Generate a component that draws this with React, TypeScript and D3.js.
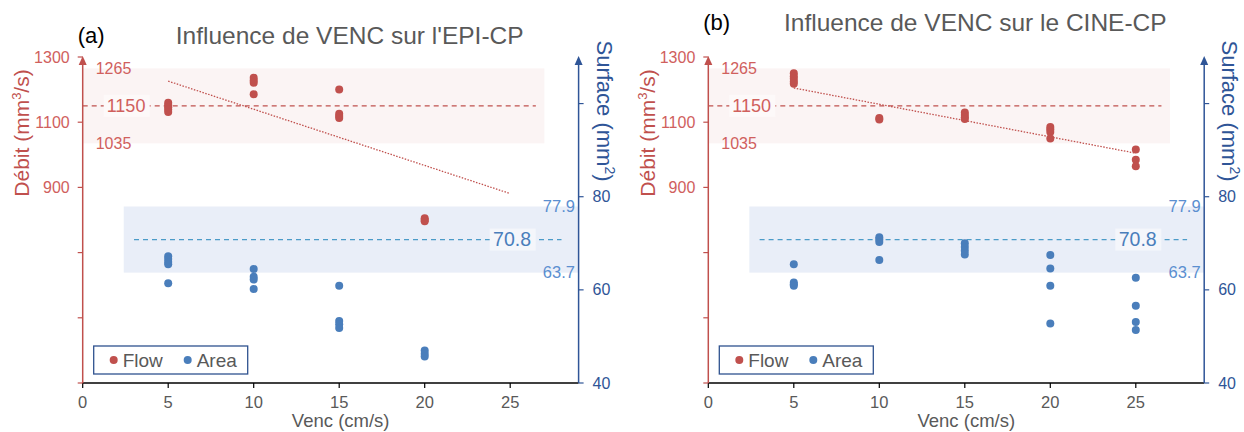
import React from "react";
import * as d3 from "d3";

// valeurs
const vencTicks = [0, 5, 10, 15, 20, 25];
const flowTicks = [300, 500, 700, 900, 1100, 1300];
const flowLabels = [900, 1100, 1300];
const areaTicks = [40, 60, 80, 100];
const areaLabels = [40, 60, 80];

const flowRef = { mean: 1150, low: 1035, high: 1265 };
const areaRef = { mean: 70.8, low: 63.7, high: 77.9 };

// (a) EPI-CP
const epiFlow: [number, number][] = [
  [5, 1160], [5, 1153], [5, 1146], [5, 1139], [5, 1131],
  [10, 1236], [10, 1228], [10, 1221], [10, 1186],
  [15, 1200], [15, 1126], [15, 1119], [15, 1113],
  [20, 805], [20, 800], [20, 796],
];
const epiArea: [number, number][] = [
  [5, 67.2], [5, 66.6], [5, 66.0], [5, 65.5], [5, 61.4],
  [10, 64.5], [10, 62.8], [10, 62.2], [10, 60.2],
  [15, 60.9], [15, 53.3], [15, 52.6], [15, 51.8],
  [20, 47.0], [20, 46.3], [20, 45.7],
];
const epiTrend: [number, number][] = [[5, 1226], [25, 881]];

// (b) CINE-CP
const cineFlow: [number, number][] = [
  [5, 1250], [5, 1241], [5, 1233], [5, 1225], [5, 1218],
  [10, 1113], [10, 1108],
  [15, 1130], [15, 1122], [15, 1115], [15, 1110],
  [20, 1085], [20, 1078], [20, 1070], [20, 1050],
  [25, 1016], [25, 985], [25, 965],
];
const cineArea: [number, number][] = [
  [5, 65.5], [5, 61.6], [5, 61.2], [5, 60.9],
  [10, 71.3], [10, 70.8], [10, 70.3], [10, 66.4],
  [15, 70.0], [15, 69.2], [15, 68.4], [15, 67.6],
  [20, 67.5], [20, 64.6], [20, 60.9], [20, 52.8],
  [25, 62.6], [25, 56.6], [25, 53.1], [25, 51.4],
];
const cineTrend: [number, number][] = [[5, 1205], [25, 1005]];

const RED = "#c0504d";
const RED_TXT = "#d0605d";
const BLUE = "#4a7ebb";
const NAVY = "#2f5597";
const GREY = "#595959";
const FONT = "'Liberation Sans', Arial, sans-serif";

type PanelProps = {
  left: number;
  titleY: number;
  letter: string;
  title: string;
  flow: [number, number][];
  area: [number, number][];
  trend: [number, number][];
};

const Panel = ({ left, titleY, letter, title, flow, area, trend }: PanelProps) => {
  const top = 57;
  const bottom = 383;
  const x = d3.scaleLinear().domain([0, 29]).range([left, left + 29 * 17.1]);
  const yF = d3.scaleLinear().domain([300, 1300]).range([bottom, top]);
  const yA = d3.scaleLinear().domain([40, 110]).range([bottom, top]);
  const x0 = x(0);
  const x1 = x(29);
  const line = d3
    .line<[number, number]>()
    .x((d) => x(d[0]))
    .y((d) => yF(d[1]));

  return (
    <g fontFamily={FONT}>
      {/* bandes de référence */}
      <rect x={x(0)} y={yF(flowRef.high)} width={x(27) - x(0)}
        height={yF(flowRef.low) - yF(flowRef.high)} fill="#fbf4f4" />
      <rect x={x(2.4)} y={yA(areaRef.high)} width={x1 - x(2.4)}
        height={yA(areaRef.low) - yA(areaRef.high)} fill="#e9eef8" />

      <line x1={x0} x2={x(26.5)} y1={yF(flowRef.mean)} y2={yF(flowRef.mean)}
        stroke={RED} strokeWidth={1.2} strokeDasharray="5,4" />
      <line x1={x(3)} x2={x(28)} y1={yA(areaRef.mean)} y2={yA(areaRef.mean)}
        stroke="#4b9bc8" strokeWidth={1.2} strokeDasharray="5,4" />

      {/* étiquettes des références */}
      <text x={x0 + 13} y={yF(flowRef.high)} dy="0.35em" fontSize={16} fill={RED_TXT}>
        {flowRef.high}
      </text>
      <text x={x0 + 13} y={yF(flowRef.low)} dy="0.35em" fontSize={16} fill={RED_TXT}>
        {flowRef.low}
      </text>
      <rect x={x0 + 21} y={yF(flowRef.mean) - 11} width={46} height={22} fill="#fdf9f9" />
      <text x={x0 + 24} y={yF(flowRef.mean)} dy="0.35em" fontSize={18} fill={RED_TXT}>
        {flowRef.mean}
      </text>
      <text x={x(27.85)} y={yA(areaRef.high)} dy="0.35em" textAnchor="middle" fontSize={16.5} fill="#5b8fd0">
        {areaRef.high}
      </text>
      <text x={x(27.85)} y={yA(areaRef.low)} dy="0.35em" textAnchor="middle" fontSize={16.5} fill="#5b8fd0">
        {areaRef.low}
      </text>
      <rect x={x(23.8)} y={yA(areaRef.mean) - 11} width={46} height={22} fill="#f4f6fb" />
      <text x={x(24.0)} y={yA(areaRef.mean)} dy="0.35em" fontSize={19.5} fill="#4a7ebb">
        {areaRef.mean}
      </text>

      {/* tendance */}
      <path d={line(trend) ?? ""} fill="none" stroke={RED} strokeWidth={1.3} strokeDasharray="1.5,1.5" />

      {/* points */}
      {area.map((d, i) => (
        <circle key={"a" + i} cx={x(d[0])} cy={yA(d[1])} r={4} fill={BLUE} />
      ))}
      {flow.map((d, i) => (
        <circle key={"f" + i} cx={x(d[0])} cy={yF(d[1])} r={4} fill={RED} />
      ))}

      {/* axe X */}
      <line x1={x0} x2={x1} y1={bottom} y2={bottom} stroke="#000" strokeWidth={1.5} />
      {vencTicks.map((t) => (
        <g key={t}>
          <line x1={x(t)} x2={x(t)} y1={bottom} y2={bottom + 5} stroke="#000" strokeWidth={1.2} />
          <text x={x(t)} y={bottom + 19} dy="0.35em" textAnchor="middle" fontSize={16.5} fill={GREY}>
            {t}
          </text>
        </g>
      ))}
      <text x={x0 + 258} y={bottom + 38} dy="0.35em" textAnchor="middle" fontSize={18.5} fill={GREY}>
        Venc (cm/s)
      </text>

      {/* axe gauche : débit */}
      <line x1={x0} x2={x0} y1={bottom} y2={top + 2} stroke={RED} strokeWidth={1.5} />
      <path d={`M${x0 - 4},${top + 8} L${x0},${top - 1} L${x0 + 4},${top + 8} Z`} fill={RED} />
      {flowTicks.map((t) => (
        <line key={t} x1={x0 - 5} x2={x0} y1={yF(t)} y2={yF(t)} stroke={RED} strokeWidth={1.2} />
      ))}
      {flowLabels.map((t) => (
        <text key={t} x={x0 - 13} y={yF(t)} dy="0.35em" textAnchor="end" fontSize={16} fill={RED_TXT}>
          {t}
        </text>
      ))}
      <text transform={`translate(${x0 - 61},${133}) rotate(-90)`} textAnchor="middle"
        dy="0.35em" fontSize={21} fill={RED}>
        Débit (mm<tspan fontSize={13} dy="-8">3</tspan><tspan dy="8">/s)</tspan>
      </text>

      {/* axe droit : surface */}
      <line x1={x1} x2={x1} y1={bottom} y2={top + 2} stroke={NAVY} strokeWidth={1.5} />
      <path d={`M${x1 - 4},${top + 8} L${x1},${top - 1} L${x1 + 4},${top + 8} Z`} fill={NAVY} />
      {areaTicks.map((t) => (
        <line key={t} x1={x1} x2={x1 + 5} y1={yA(t)} y2={yA(t)} stroke={NAVY} strokeWidth={1.2} />
      ))}
      {areaLabels.map((t) => (
        <text key={t} x={x1 + 14} y={yA(t)} dy="0.35em" fontSize={16} fill={NAVY}>
          {t}
        </text>
      ))}
      <text transform={`translate(${x1 + 26},${111}) rotate(90)`} textAnchor="middle"
        dy="0.35em" fontSize={22} fill={NAVY}>
        Surface (mm<tspan fontSize={14} dy="-8">2</tspan><tspan dy="8">)</tspan>
      </text>

      {/* légende */}
      <rect x={x0 + 11} y={346} width={154} height={28} fill="#fff" stroke="#2f528f" strokeWidth={1.3} />
      <circle cx={x0 + 31} cy={360} r={4} fill={RED} />
      <text x={x0 + 40} y={360} dy="0.35em" fontSize={19} fill={GREY}>Flow</text>
      <circle cx={x0 + 105} cy={360} r={4} fill={BLUE} />
      <text x={x0 + 114} y={360} dy="0.35em" fontSize={19} fill={GREY}>Area</text>

      {/* titres */}
      <text x={x0 - 5} y={titleY} dy="0.35em" fontSize={22} fill="#000">{letter}</text>
      <text x={x0 + 267} y={titleY} dy="0.35em" textAnchor="middle" fontSize={24.5} fill={GREY}>
        {title}
      </text>
    </g>
  );
};

export default function App() {
  return (
    <div style={{ position: "absolute", left: 0, top: 0 }}>
      <svg width={1244} height={432} style={{ display: "block", background: "#fff" }}>
        <Panel left={82.7} titleY={35} letter="(a)" title="Influence de VENC sur l'EPI-CP"
          flow={epiFlow} area={epiArea} trend={epiTrend} />
        <Panel left={708.3} titleY={22} letter="(b)" title="Influence de VENC sur le CINE-CP"
          flow={cineFlow} area={cineArea} trend={cineTrend} />
      </svg>
    </div>
  );
}
